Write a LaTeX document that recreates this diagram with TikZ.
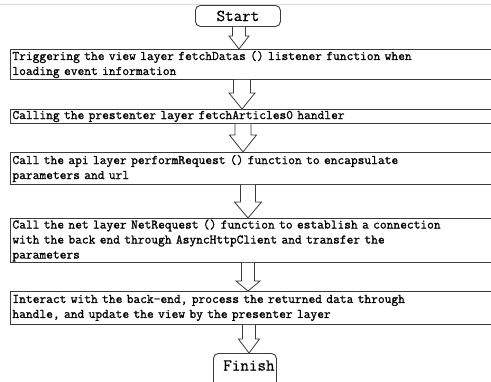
\documentclass[tikz,border=0pt]{standalone}
\usepackage{fontspec}
\newfontfamily\steptt[FakeBold=1.2]{Latin Modern Mono}
\newfontfamily\termtt[FakeBold=0.6]{Latin Modern Mono}
\usetikzlibrary{calc}
\definecolor{linegray}{HTML}{3A3A3A}
\definecolor{topline}{HTML}{D5DAE2}
\tikzset{
  stepbox/.style={draw=linegray, line width=0.9pt, rectangle, anchor=north west,
    inner xsep=2pt, inner ysep=0pt, text width=486pt, minimum width=490pt,
    align=left, font=\steptt\fontsize{13.1}{15}\selectfont},
  termbox/.style={draw=linegray, line width=0.9pt, rounded corners=5pt, anchor=north west,
    inner sep=0pt, font=\termtt\fontsize{16.6}{18}\selectfont},
  blockarrow/.style={draw=linegray, line width=0.8pt, fill=white, line join=miter}
}
\newcommand\blockarr[6]{%
  \draw[blockarrow] let \p1=(#1.south), \p2=(#2.north) in
   ({#3pt-#4pt},\y1) -- ({#3pt-#4pt},{\y2+#6pt}) -- ({#3pt-#5pt},{\y2+#6pt})
   -- (#3pt,\y2) -- ({#3pt+#5pt},{\y2+#6pt}) -- ({#3pt+#4pt},{\y2+#6pt})
   -- ({#3pt+#4pt},\y1);
}
\begin{document}
\begin{tikzpicture}[x=1pt,y=-1pt]
\clip (0,0) rectangle (491,381);
\fill[white] (0,0) rectangle (491,381);
\draw[topline, line width=1pt] (0,4) -- (491,4);

\node[termbox, minimum width=85pt, minimum height=21pt] (start) at (195,5) {Start};

\node[stepbox, minimum height=30pt] (b1) at (10,49)
  {Triggering the view layer fetchDatas () listener function when\\loading event information};
\node[stepbox, minimum height=14pt] (b2) at (10,109)
  {Calling the prestenter layer fetchArticles0 handler};
\node[stepbox, minimum height=32pt] (b3) at (10,152)
  {Call the api layer performRequest () function to encapsulate\\parameters and url};
\node[stepbox, minimum height=44pt] (b4) at (10,218)
  {Call the net layer NetRequest () function to establish a connection\\with the back end through AsyncHttpClient and transfer the\\parameters};
\node[stepbox, minimum height=33pt] (b5) at (10,291)
  {Interact with the back-end, process the returned data through\\handle, and update the view by the presenter layer};

\node[termbox, minimum width=63pt, minimum height=34pt, text depth=10pt] (finish) at (213,353) {\hspace{8pt}Finish};

\blockarr{start}{b1}{239}{6.5}{10}{13}
\blockarr{b1}{b2}{242}{8.5}{13}{16}
\blockarr{b2}{b3}{243}{8}{13.5}{17}
\blockarr{b3}{b4}{248}{7.5}{13.5}{16}
\blockarr{b4}{b5}{248}{6.5}{12}{10}
\blockarr{b5}{finish}{249}{6.5}{10.5}{14}
\end{tikzpicture}
\end{document}
